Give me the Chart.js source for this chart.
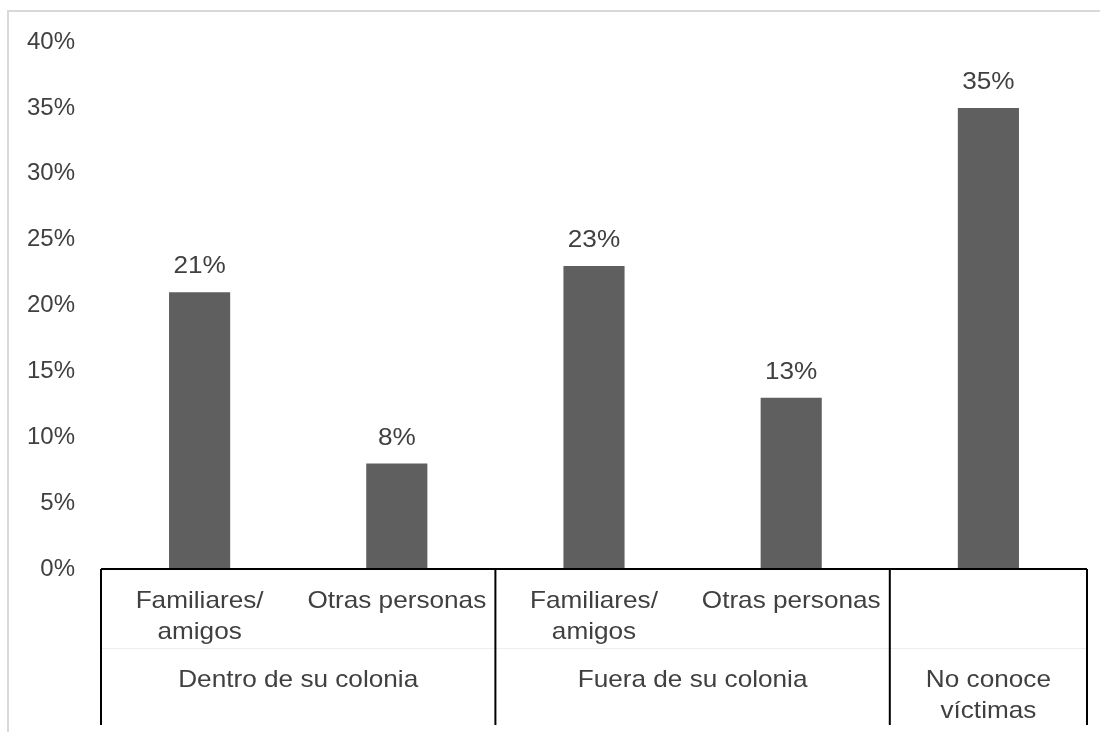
<!DOCTYPE html>
<html>
<head>
<meta charset="utf-8">
<script src="https://cdn.jsdelivr.net/npm/chart.js@4"></script>
<style>
    html, body { margin: 0; padding: 0; background: #fff; overflow: hidden; }
    #frame { position: absolute; left: 7px; top: 10px; width: 1200px; height: 800px; border: 2px solid #d9d9d9; }
    #wrap { position: absolute; left: 0; top: 0; width: 1100px; height: 732px; }
</style>
</head>
<body>
<div id="frame"></div>
<div id="wrap"><canvas id="chart"></canvas></div>
<script>
// data
const categories = ['Dentro-Familiares', 'Dentro-Otras', 'Fuera-Familiares', 'Fuera-Otras', 'No conoce'];
const subLabels = [['Familiares/', 'amigos'], ['Otras personas'], ['Familiares/', 'amigos'], ['Otras personas'], []];
const groupLabels = [['Dentro de su colonia'], ['Fuera de su colonia'], ['No conoce', 'víctimas']];
const groupSizes = [2, 2, 1];
const values = [21, 8, 23, 13, 35];
const yMin = 0, yMax = 40, yStep = 5;

const textColor = '#404040';
const fontFamily = '"Liberation Sans", Arial, sans-serif';
const stretch = 1.09; // the original text is set a little wider

function wideText(ctx, t, x, y) {
    ctx.save();
    ctx.translate(x, y);
    ctx.scale(stretch, 1);
    ctx.fillText(t, 0, 0);
    ctx.restore();
}

// draws value labels and the two-level category axis
const multiLevelAxis = {
    id: 'multiLevelAxis',
    afterDatasetsDraw(chart) {
        const ctx = chart.ctx;
        const x = chart.scales.x;
        const area = chart.chartArea;
        const meta = chart.getDatasetMeta(0);

        ctx.save();
        ctx.font = '24px ' + fontFamily;
        ctx.fillStyle = textColor;
        ctx.textAlign = 'center';

        // value labels
        ctx.textBaseline = 'alphabetic';
        meta.data.forEach((bar, i) => {
            wideText(ctx, values[i] + '%', bar.x, bar.y - 19);
        });

        const half = (x.getPixelForValue(1) - x.getPixelForValue(0)) / 2;
        const bottom = area.bottom + 156;
        const row1 = area.bottom + 32;
        const row2 = area.bottom + 111;
        const lineH = 31;

        // faint divider between the two rows
        ctx.strokeStyle = '#eeeeee';
        ctx.lineWidth = 1;
        ctx.beginPath();
        ctx.moveTo(area.left, area.bottom + 79.5);
        ctx.lineTo(area.right, area.bottom + 79.5);
        ctx.stroke();

        // first level labels
        ctx.textBaseline = 'middle';
        subLabels.forEach((lines, i) => {
            const cx = x.getPixelForValue(i);
            lines.forEach((t, k) => wideText(ctx, t, cx, row1 + k * lineH));
        });

        // group labels and separators
        ctx.strokeStyle = '#000';
        ctx.lineWidth = 2;
        let start = 0;
        const edges = [x.getPixelForValue(0) - half];
        groupSizes.forEach((n, g) => {
            const l = x.getPixelForValue(start) - half;
            const r = x.getPixelForValue(start + n - 1) + half;
            edges.push(r);
            groupLabels[g].forEach((t, k) => wideText(ctx, t, (l + r) / 2, row2 + k * lineH));
            start += n;
        });
        ctx.beginPath();
        ctx.moveTo(edges[0], area.bottom);
        ctx.lineTo(edges[edges.length - 1], area.bottom);
        edges.forEach(e => {
            ctx.moveTo(e, area.bottom);
            ctx.lineTo(e, bottom);
        });
        ctx.stroke();
        ctx.restore();
    }
};

new Chart(document.getElementById('chart').getContext('2d'), {
    type: 'bar',
    data: {
        labels: categories,
        datasets: [{
            data: values,
            backgroundColor: '#5f5f5f',
            barPercentage: 0.31,
            categoryPercentage: 1
        }]
    },
    options: {
        responsive: true,
        maintainAspectRatio: false,
        animation: false,
        layout: { padding: { top: 42, right: 13, bottom: 163, left: 0 } },
        plugins: {
            legend: { display: false },
            tooltip: { enabled: false }
        },
        scales: {
            x: {
                display: false
            },
            y: {
                min: yMin,
                max: yMax,
                grid: { display: false },
                border: { display: false },
                afterFit(scale) { scale.width = 101; },
                ticks: {
                    stepSize: yStep,
                    padding: 18,
                    color: textColor,
                    font: { size: 24, family: fontFamily },
                    callback: v => v + '%'
                }
            }
        }
    },
    plugins: [multiLevelAxis]
});
</script>
</body>
</html>
